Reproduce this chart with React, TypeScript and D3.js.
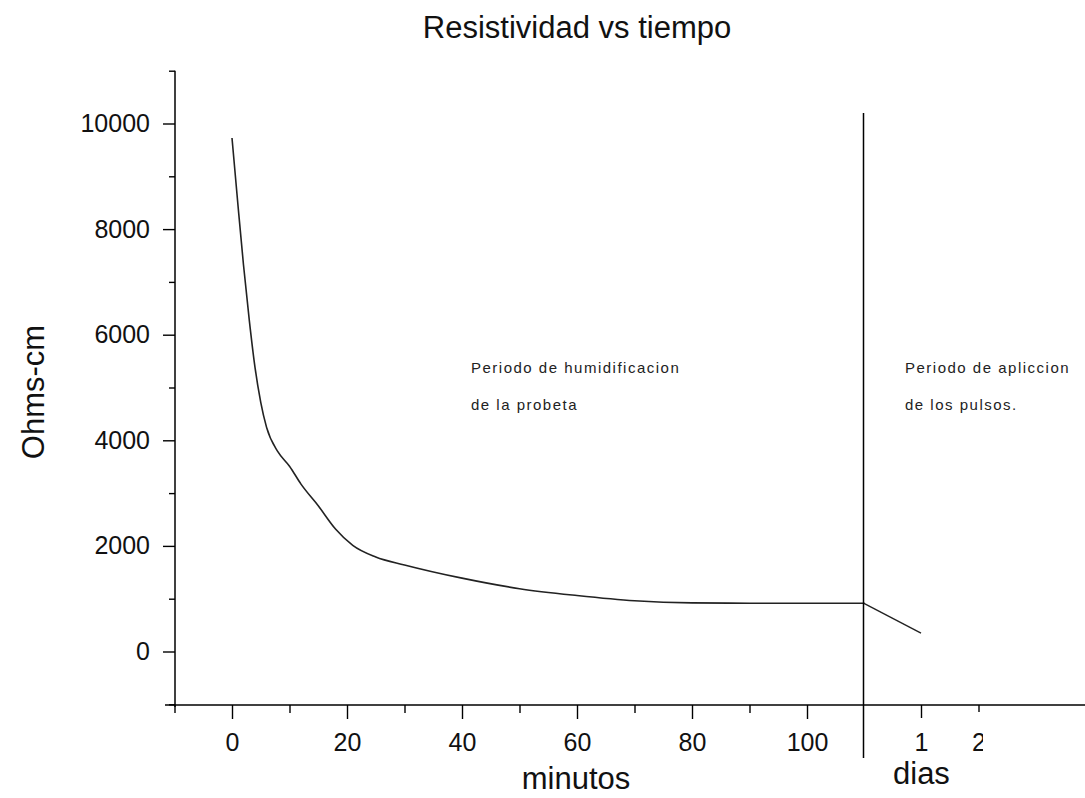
import React, { useEffect, useRef } from 'react';
import * as d3 from 'd3';

// minutos (periodo de humidificacion)
const minutes = [0, 1, 2, 3, 4, 5, 6, 8, 10, 12, 15, 18, 21, 25, 30, 40, 50, 60, 70, 80, 90, 100, 110];
const ohmsMinutes = [9725, 8500, 7320, 6280, 5380, 4720, 4250, 3780, 3510, 3170, 2760, 2320, 2010, 1790, 1640, 1390, 1190, 1060, 960, 920, 915, 915, 915];

// dias (periodo de aplicacion de los pulsos)
const days = [0, 1];
const ohmsDays = [915, 350];

const yMajorTicks = [0, 2000, 4000, 6000, 8000, 10000];
const yMinorTicks = [-1000, 1000, 3000, 5000, 7000, 9000, 11000];
const xMajorTicks = [0, 20, 40, 60, 80, 100];
const xMinorTicks = [-10, 10, 30, 50, 70, 90];

const FONT = '"Liberation Sans", Arial, sans-serif';

const App = () => {
    const node = useRef<SVGSVGElement | null>(null);

    useEffect(() => {
        const width = 1085,
            height = 798;

        const svg = d3.select(node.current);
        svg.selectAll('*').remove();
        svg.attr('width', width).attr('height', height);

        // scales
        const y = d3.scaleLinear().domain([-1000, 11000]).range([704.3, 70.7]);
        const x = d3.scaleLinear().domain([-10, 110]).range([174.5, 864.5]);
        const xd = d3.scaleLinear().domain([0, 1]).range([863.5, 921]);

        const axisY = 705;
        const breakX = 863.5;

        // curve in minutes
        const line = d3.line<number>()
            .x((d, i) => x(minutes[i]))
            .y(d => y(d))
            .curve(d3.curveMonotoneX);

        svg.append('path')
            .attr('d', line(ohmsMinutes))
            .style('fill', 'none')
            .style('stroke', '#222')
            .style('stroke-width', 1.6);

        // line in days
        const lineD = d3.line<number>()
            .x((d, i) => xd(days[i]))
            .y(d => y(d));

        svg.append('path')
            .attr('d', lineD(ohmsDays))
            .style('fill', 'none')
            .style('stroke', '#222')
            .style('stroke-width', 1.4);

        // y axis
        const yAxisMajor = d3.axisLeft(y)
            .tickValues(yMajorTicks)
            .tickSize(12)
            .tickSizeOuter(0)
            .tickPadding(13)
            .tickFormat(d3.format('d') as any);
        const yAxisMinor = d3.axisLeft(y)
            .tickValues(yMinorTicks)
            .tickSize(6)
            .tickSizeOuter(0)
            .tickFormat(() => '');

        const gy = svg.append('g').attr('transform', 'translate(175,0)');
        gy.append('g').call(yAxisMinor);
        gy.append('g').call(yAxisMajor);

        // x axis (minutes)
        const xAxisMajor = d3.axisBottom(x)
            .tickValues(xMajorTicks)
            .tickSize(14)
            .tickSizeOuter(0)
            .tickPadding(14)
            .tickFormat(d3.format('d') as any);
        const xAxisMinor = d3.axisBottom(x)
            .tickValues(xMinorTicks)
            .tickSize(8)
            .tickSizeOuter(0)
            .tickFormat(() => '');

        const gx = svg.append('g').attr('transform', `translate(0,${axisY})`);
        gx.append('g').call(xAxisMinor);
        gx.append('g').call(xAxisMajor);

        // x axis (days)
        const dAxisMajor = d3.axisBottom(xd)
            .tickValues([1, 3])
            .tickSize(13)
            .tickSizeOuter(0)
            .tickPadding(15)
            .tickFormat((d: any) => (d === 1 ? '1' : ''));
        const dAxisMinor = d3.axisBottom(xd)
            .tickValues([2])
            .tickSize(7)
            .tickSizeOuter(0)
            .tickPadding(21)
            .tickFormat(() => '2');

        svg.append('clipPath').attr('id', 'clipDays')
            .append('rect').attr('x', 0).attr('y', 0).attr('width', 983).attr('height', height);

        const gd = svg.append('g')
            .attr('transform', `translate(0,${axisY})`)
            .attr('clip-path', 'url(#clipDays)');
        gd.append('g').call(dAxisMajor);
        gd.append('g').call(dAxisMinor);

        // remove generated domain paths, style ticks
        svg.selectAll('.domain').remove();
        svg.selectAll('.tick line').style('stroke', '#000').style('stroke-width', 1.4);
        svg.selectAll('.tick text')
            .style('font-family', FONT)
            .style('font-size', '25px')
            .style('fill', '#111');

        // axis lines
        svg.append('line')
            .attr('x1', 165).attr('x2', width)
            .attr('y1', axisY).attr('y2', axisY)
            .style('stroke', '#000').style('stroke-width', 1.5);
        svg.append('line')
            .attr('x1', 175).attr('x2', 175)
            .attr('y1', y(11000)).attr('y2', axisY + 2)
            .style('stroke', '#000').style('stroke-width', 1.5);

        // break line
        svg.append('line')
            .attr('x1', breakX).attr('x2', breakX)
            .attr('y1', 113).attr('y2', 758)
            .style('stroke', '#000').style('stroke-width', 1.5);

        // texts
        const text = (t: string, tx: number, ty: number, size: number, anchor = 'start', extra?: (s: any) => void) => {
            const s = svg.append('text')
                .attr('x', tx).attr('y', ty)
                .attr('text-anchor', anchor)
                .style('font-family', FONT)
                .style('font-size', size + 'px')
                .style('fill', '#111')
                .text(t);
            if (extra) extra(s);
            return s;
        };

        text('Resistividad vs tiempo', 577, 38, 31, 'middle');
        text('minutos', 576, 789, 31, 'middle');
        text('dias', 893, 784, 31, 'start');
        text('Ohms-cm', 0, 0, 31, 'middle', s => s.attr('transform', 'translate(44,392) rotate(-90)'));

        const note = (s: any) => s.style('letter-spacing', '1.5px').style('fill', '#222');
        text('Periodo de humidificacion', 471, 373, 15, 'start', note);
        text('de la probeta', 471, 410, 15, 'start', note);
        text('Periodo de apliccion', 905, 373, 15, 'start', note);
        text('de los pulsos.', 905, 410, 15, 'start', note);
    }, []);

    return (
        <svg ref={node} style={{ position: 'absolute', left: 0, top: 0, background: '#fff' }}></svg>
    );
};

export default App;
